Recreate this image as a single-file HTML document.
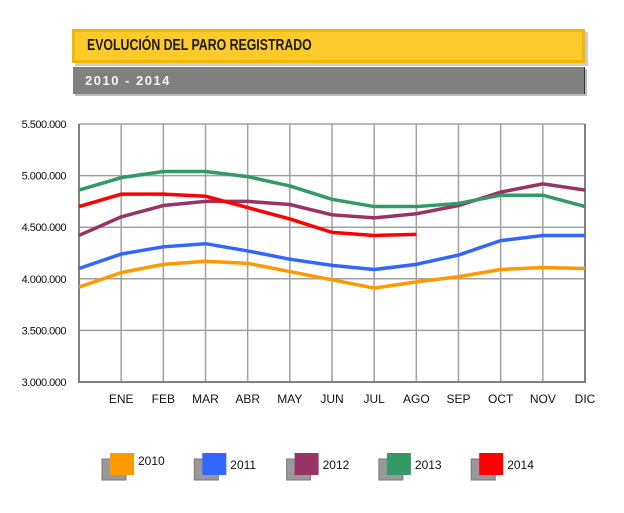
<!DOCTYPE html>
<html><head><meta charset="utf-8"><style>
body{margin:0;background:#fff;width:624px;height:513px;position:relative;font-family:"Liberation Sans",sans-serif;overflow:hidden}
.title{position:absolute;left:72px;top:29px;width:507px;height:28px;background:#fdca2c;border:3px solid #f2b705;box-shadow:3px 3px 0 #ccc}
.title span{position:absolute;left:12px;top:5px;font-size:16px;font-weight:bold;color:#1a1a1a;transform:scaleX(0.77);transform-origin:left;white-space:nowrap}
.sub{position:absolute;left:73px;top:67px;width:511px;height:27px;background:#808080;box-shadow:2px 2px 0 #bbb;border-right:1px solid #333}
.sub span{position:absolute;left:12px;top:6px;font-size:13px;font-weight:bold;color:#f4f4f4;letter-spacing:1.5px}
</style></head><body>
<div class="title"><span>EVOLUCIÓN DEL PARO REGISTRADO</span></div>
<div class="sub"><span>2010 - 2014</span></div>
<svg id="chart" width="624" height="513" style="position:absolute;left:0;top:0"></svg>
<script>
const categories=["","ENE","FEB","MAR","ABR","MAY","JUN","JUL","AGO","SEP","OCT","NOV","DIC"];
const yTicks=[3000000,3500000,4000000,4500000,5000000,5500000];
const yTickLabels=["3.000.000","3.500.000","4.000.000","4.500.000","5.000.000","5.500.000"];
const seriesNames=["2010","2011","2012","2013","2014"];
const seriesColors=["#ff9900","#3366ff","#993366","#339966","#ff0000"];
const s2010=[3920000,4060000,4140000,4170000,4150000,4070000,3990000,3910000,3970000,4020000,4090000,4110000,4100000];
const s2011=[4100000,4240000,4310000,4340000,4270000,4190000,4130000,4090000,4140000,4230000,4370000,4420000,4420000];
const s2012=[4420000,4600000,4710000,4750000,4750000,4720000,4620000,4590000,4630000,4710000,4840000,4920000,4860000];
const s2013=[4860000,4980000,5040000,5040000,4990000,4900000,4770000,4700000,4700000,4730000,4810000,4810000,4700000];
const s2014=[4700000,4820000,4820000,4800000,4690000,4580000,4450000,4420000,4430000];
const seriesData=[s2010,s2011,s2012,s2013,s2014];
const L=79,R=585,T=124,B=382,yMin=3000000,yMax=5500000;
const X=i=>L+i*(R-L)/(categories.length-1);
const Y=v=>B-(v-yMin)/(yMax-yMin)*(B-T);
const svg=document.getElementById('chart');const NS="http://www.w3.org/2000/svg";
function mk(t,a){const e=document.createElementNS(NS,t);for(const k in a)e.setAttribute(k,a[k]);svg.appendChild(e);return e;}
yTicks.forEach((v,i)=>{
 const g=mk('line',{x1:L,x2:R,y1:Y(v),y2:Y(v),stroke:'#a0a0a0','stroke-width':1.5});
 
 
 const t=mk('text',{x:66,y:Y(v)+4,'text-anchor':'end','font-size':11,fill:'#111','font-family':'Liberation Sans, sans-serif','letter-spacing':'-0.5'});
 t.textContent=yTickLabels[i];
 
 
});
categories.forEach((c,i)=>{
 const g=mk('line',{x1:X(i),x2:X(i),y1:T,y2:B,stroke:'#a0a0a0','stroke-width':1.5});
 
 
 if(c){const t=mk('text',{x:X(i),y:403,'text-anchor':'middle','font-size':12,fill:'#111','font-family':'Liberation Sans, sans-serif'});
 t.textContent=c;
 
 }
});
const ax=mk('path',{d:`M${L},${T}V${B}H${R}V${T}`,fill:'none',stroke:'#808080','stroke-width':2});


seriesData.forEach((d,s)=>{
 const p=mk('polyline',{points:d.map((v,i)=>X(i)+','+Y(v)).join(' '),fill:'none',stroke:seriesColors[s],'stroke-width':3.5,'stroke-linejoin':'round'});
 
 
});
seriesNames.forEach((n,s)=>{
 const x0=110+s*92.3;
 const sh=mk('rect',{x:x0-8,y:459,width:24,height:21,fill:'#999',stroke:'#777','stroke-width':1});
 
 
 const r=mk('rect',{x:x0,y:453,width:24,height:22,fill:seriesColors[s]});
 
 
 const t=mk('text',{x:x0+28,y:s==0?465:469,'font-size':12,fill:'#111','font-family':'Liberation Sans, sans-serif'});
 t.textContent=n;
 
 
});
</script>
</body></html>
